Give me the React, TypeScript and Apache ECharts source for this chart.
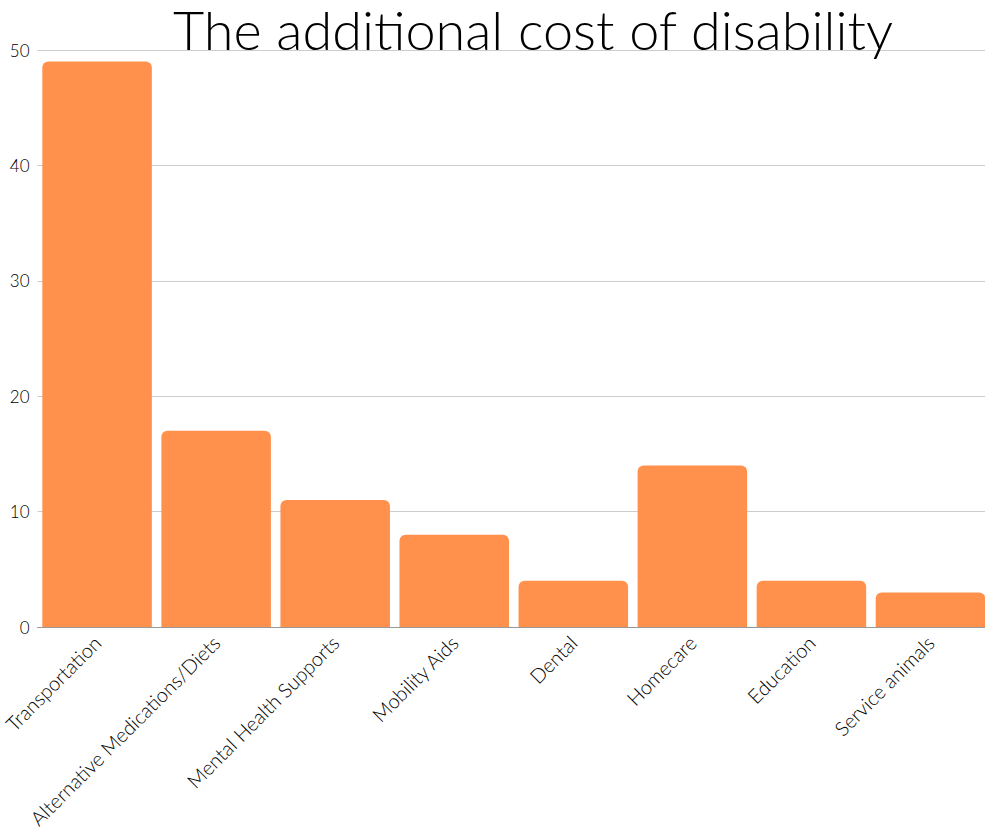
import React, { useEffect, useRef } from "react";
import * as echarts from "echarts";

const categories = [
  "Transportation",
  "Alternative Medications/Diets",
  "Mental Health Supports",
  "Mobility Aids",
  "Dental",
  "Homecare",
  "Education",
  "Service animals",
];
const values = [49, 17, 11, 8, 4, 14, 4, 3];
const titleText = "The additional cost of disability";

export default function App() {
  const ref = useRef<HTMLDivElement>(null);
  useEffect(() => {
    if (!ref.current) return;
    const chart = echarts.init(ref.current, undefined, { renderer: "svg" });
    chart.setOption({
      animation: false,
      backgroundColor: "#ffffff",
      title: {
        text: titleText,
        left: 533,
        textAlign: "center",
        top: 0,
        padding: 0,
        textStyle: {
          fontFamily: "Lato",
          fontWeight: 300,
          fontSize: 54,
          lineHeight: 58,
          color: "#000000",
        },
      },
      grid: { left: 33, right: 0, top: 50, bottom: 212, containLabel: false },
      xAxis: {
        type: "category",
        data: categories,
        axisTick: { show: false },
        axisLine: { lineStyle: { color: "#999999", width: 1 } },
        axisLabel: {
          rotate: 45,
          interval: 0,
          margin: 12,
          fontFamily: "Lato",
          fontWeight: 300,
          fontSize: 20,
          color: "#000000",
        },
      },
      yAxis: {
        type: "value",
        min: 0,
        max: 50,
        interval: 10,
        splitLine: { lineStyle: { color: "#cccccc", width: 1 } },
        axisLabel: {
          margin: 8,
          fontFamily: "Lato",
          fontWeight: 300,
          fontSize: 17,
          color: "#000000",
        },
      },
      series: [
        {
          type: "bar",
          data: values,
          barCategoryGap: "8%",
          itemStyle: { color: "#FF914D", borderRadius: [6, 6, 0, 0] },
        },
      ],
    });
    return () => chart.dispose();
  }, []);
  return (
    <div
      style={{
        position: "fixed",
        left: 0,
        top: 0,
        width: 985,
        height: 839,
        overflow: "hidden",
        background: "#fff",
      }}
    >
      <div ref={ref} style={{ width: 990, height: 839 }} />
    </div>
  );
}
